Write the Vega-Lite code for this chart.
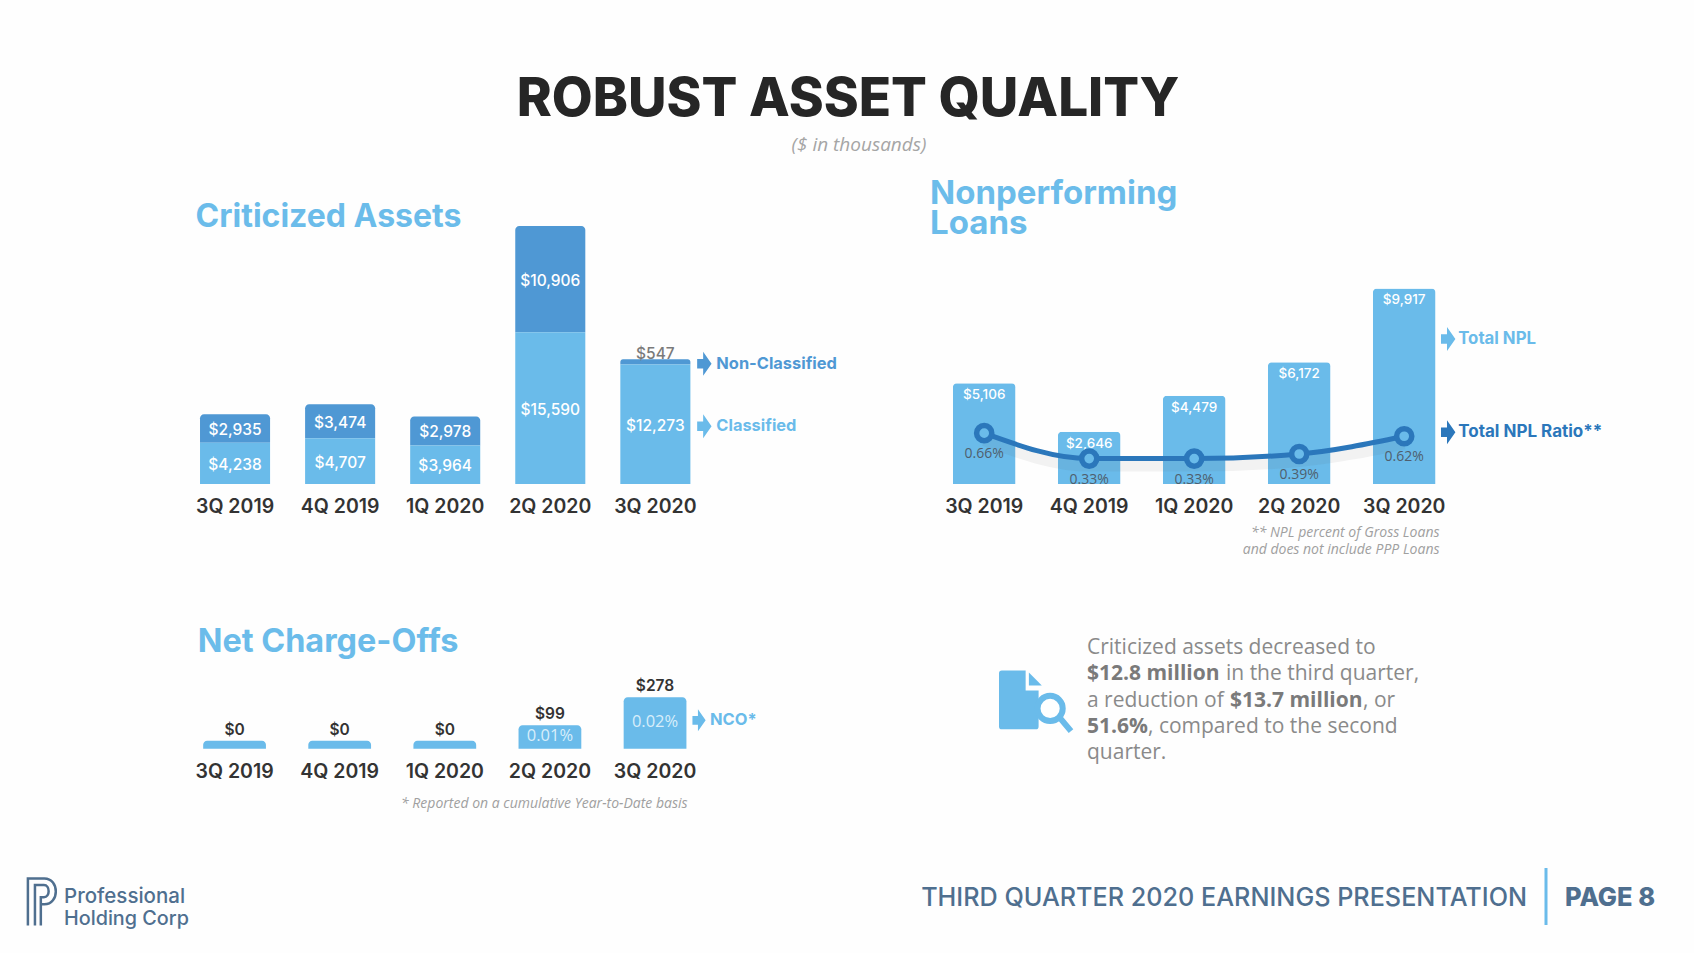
{"$schema":"https://vega.github.io/schema/vega-lite/v6.json","background":"#fefefe","padding":0,"autosize":{"type":"pad"},"bounds":"flush","spacing":0,"columns":2,"config":{"view":{"stroke":null},"font":"Inter"},
"datasets":{
"crit":[{"quarter":"3Q 2019","type":"Classified","value":4238},{"quarter":"3Q 2019","type":"Non-Classified","value":2935},{"quarter":"4Q 2019","type":"Classified","value":4707},{"quarter":"4Q 2019","type":"Non-Classified","value":3474},{"quarter":"1Q 2020","type":"Classified","value":3964},{"quarter":"1Q 2020","type":"Non-Classified","value":2978},{"quarter":"2Q 2020","type":"Classified","value":15590},{"quarter":"2Q 2020","type":"Non-Classified","value":10906},{"quarter":"3Q 2020","type":"Classified","value":12273},{"quarter":"3Q 2020","type":"Non-Classified","value":547}],
"npl":[{"quarter":"3Q 2019","total":5106,"ratio":0.0066},{"quarter":"4Q 2019","total":2646,"ratio":0.0033},{"quarter":"1Q 2020","total":4479,"ratio":0.0033},{"quarter":"2Q 2020","total":6172,"ratio":0.0039},{"quarter":"3Q 2020","total":9917,"ratio":0.0062}],
"nco":[{"quarter":"3Q 2019","value":0,"rate":0},{"quarter":"4Q 2019","value":0,"rate":0},{"quarter":"1Q 2020","value":0,"rate":0},{"quarter":"2Q 2020","value":99,"rate":0.0001},{"quarter":"3Q 2020","value":278,"rate":0.0002}]
},
"concat":[
{"width":880,"height":165,"data":{"values":[{"text":"ROBUST ASSET QUALITY"}]},
"mark":{"type":"text","font":"Inter","fontSize":53,"fontWeight":800,"color":"#262626","baseline":"middle","align":"center"},
"encoding":{"x":{"datum":848,"type":"quantitative","scale":{"domain":[0,880],"range":[0,880],"nice":false},"axis":null},"y":{"datum":100,"type":"quantitative","scale":{"domain":[0,165],"range":[0,165],"nice":false},"axis":null},"text":{"field":"text"}}},
{"width":814,"height":165,"data":{"values":[{"text":"($ in thousands)"}]},
"mark":{"type":"text","font":"Open Sans","fontSize":19,"fontStyle":"italic","color":"#a5a5a5","baseline":"middle","align":"center"},
"encoding":{"x":{"datum":-21,"type":"quantitative","scale":{"domain":[-100,814],"range":[-100,814],"nice":false},"axis":null},"y":{"datum":145,"type":"quantitative","scale":{"domain":[0,165],"range":[0,165],"nice":false},"axis":null},"text":{"field":"text"}}},
{"width":880,"height":319,"title":{"text":"Criticized Assets","anchor":"start","frame":"group","dx":195.6,"offset":-84,"baseline":"middle","fontSize":32,"fontWeight":700,"font":"Inter","color":"#6bbcea"},
"data":{"name":"crit"},
"transform":[{"stack":"value","groupby":["quarter"],"sort":[{"field":"type","order":"ascending"}],"as":["y0","y1"]}],
"encoding":{"x":{"field":"quarter","type":"nominal","sort":["3Q 2019","4Q 2019","1Q 2020","2Q 2020","3Q 2020"],"scale":{"range":[182.5,707.9],"paddingInner":0.3333,"paddingOuter":0.1667},"axis":{"title":null,"labelAngle":0,"domain":false,"ticks":false,"grid":false,"labelFontSize":19.5,"labelFontWeight":600,"labelColor":"#333333","labelPadding":13,"labelFont":"Inter"}}},
"layer":[
{"transform":[{"filter":"datum.type==='Non-Classified'"}],"mark":{"type":"bar","cornerRadiusTopLeft":4,"cornerRadiusTopRight":4},"encoding":{"y":{"field":"y1","type":"quantitative","scale":{"domain":[0,32752],"nice":false},"axis":null},"y2":{"field":"y0"},"color":{"field":"type","type":"nominal","scale":{"domain":["Classified","Non-Classified"],"range":["#6abbea","#4f98d4"]},"legend":null}}},
{"transform":[{"filter":"datum.type==='Classified'"}],"mark":{"type":"bar"},"encoding":{"y":{"field":"y1","type":"quantitative","axis":null},"y2":{"field":"y0"},"color":{"field":"type","type":"nominal","legend":null}}},
{"transform":[{"fold":["y0","y1"],"as":["edge","pos"]},{"aggregate":[{"op":"mean","field":"pos","as":"mid"}],"groupby":["quarter","type","value"]},{"filter":"datum.value>=1000"}],"mark":{"type":"text","font":"Inter","fontSize":15.5,"fontWeight":500,"color":"#ffffff","baseline":"middle","dy":1.5},"encoding":{"y":{"field":"mid","type":"quantitative","axis":null},"text":{"field":"value","type":"quantitative","format":"$,.0f"}}},
{"transform":[{"filter":"datum.value<1000"}],"mark":{"type":"text","font":"Inter","fontSize":15.5,"fontWeight":500,"color":"#7a7a7a","baseline":"bottom","dy":3},"encoding":{"y":{"field":"y1","type":"quantitative","axis":null},"text":{"field":"value","type":"quantitative","format":"$,.0f"}}},
{"transform":[{"fold":["y0","y1"],"as":["edge","pos"]},{"aggregate":[{"op":"mean","field":"pos","as":"mid"}],"groupby":["quarter","type"]},{"filter":"datum.quarter==='3Q 2020'"}],"mark":{"type":"point","shape":"M-0.6 -0.4L-0.1 -0.4L-0.1 -1L0.6 0L-0.1 1L-0.1 0.4L-0.6 0.4Z","filled":true,"size":576,"opacity":1,"xOffset":49,"yOffset":2},"encoding":{"y":{"field":"mid","type":"quantitative","axis":null},"color":{"field":"type","type":"nominal","legend":null}}},
{"transform":[{"fold":["y0","y1"],"as":["edge","pos"]},{"aggregate":[{"op":"mean","field":"pos","as":"mid"}],"groupby":["quarter","type"]},{"filter":"datum.quarter==='3Q 2020'"}],"mark":{"type":"text","font":"Inter","fontSize":16.4,"fontWeight":700,"align":"left","baseline":"middle","dx":61,"dy":2},"encoding":{"y":{"field":"mid","type":"quantitative","axis":null},"text":{"field":"type"},"color":{"field":"type","type":"nominal","legend":null}}}
]},
{"width":814,"height":319,"title":{"text":["Nonperforming","Loans"],"anchor":"start","frame":"group","dx":50,"offset":-92,"baseline":"middle","lineHeight":30,"fontSize":33,"fontWeight":700,"font":"Inter","color":"#6bbcea"},
"data":{"name":"npl"},
"encoding":{"x":{"field":"quarter","type":"nominal","sort":["3Q 2019","4Q 2019","1Q 2020","2Q 2020","3Q 2020"],"scale":{"range":[51.7,576.7],"paddingInner":0.403,"paddingOuter":0.2015},"axis":{"title":["** NPL percent of Gross Loans","and does not include PPP Loans"],"titleFont":"Open Sans","titleFontStyle":"italic","titleFontWeight":400,"titleFontSize":14,"titleColor":"#a0a0a0","titleAlign":"right","titleLineHeight":17,"titleX":559,"titleY":41.5,"labelAngle":0,"domain":false,"ticks":false,"grid":false,"labelFontSize":19.5,"labelFontWeight":600,"labelColor":"#333333","labelPadding":13,"labelFont":"Inter"}}},
"resolve":{"scale":{"y":"independent"}},
"layer":[
{"mark":{"type":"bar","color":"#6abbea","cornerRadiusTopLeft":4,"cornerRadiusTopRight":4},"encoding":{"y":{"field":"total","type":"quantitative","scale":{"domain":[0,16176],"nice":false},"axis":null}}},
{"mark":{"type":"text","font":"Inter","fontSize":13.5,"fontWeight":500,"color":"#ffffff","baseline":"middle","dy":12},"encoding":{"y":{"field":"total","type":"quantitative","scale":{"domain":[0,16176],"nice":false},"axis":null},"text":{"field":"total","type":"quantitative","format":"$,.0f"}}},
{"transform":[{"filter":"datum.quarter==='3Q 2020'"}],"mark":{"type":"point","shape":"M-0.6 -0.4L-0.1 -0.4L-0.1 -1L0.6 0L-0.1 1L-0.1 0.4L-0.6 0.4Z","filled":true,"size":576,"opacity":1,"color":"#6abbea","xOffset":44,"yOffset":1},"encoding":{"y":{"datum":7400,"type":"quantitative","scale":{"domain":[0,16176],"nice":false},"axis":null}}},
{"transform":[{"filter":"datum.quarter==='3Q 2020'"}],"mark":{"type":"text","font":"Inter","fontSize":16.8,"fontWeight":700,"color":"#6abbea","align":"left","baseline":"middle","dx":54,"dy":1},"encoding":{"y":{"datum":7400,"type":"quantitative","scale":{"domain":[0,16176],"nice":false},"axis":null},"text":{"value":"Total NPL"}}},
{"mark":{"type":"line","interpolate":"monotone","color":"#555555","strokeWidth":12,"opacity":0.07,"yOffset":7},"encoding":{"y":{"field":"ratio","type":"quantitative","scale":{"domain":[0,0.04143],"nice":false},"axis":null}}},
{"mark":{"type":"line","interpolate":"monotone","color":"#2b77bb","strokeWidth":5},"encoding":{"y":{"field":"ratio","type":"quantitative","scale":{"domain":[0,0.04143],"nice":false},"axis":null}}},
{"mark":{"type":"point","filled":true,"fill":"#6abbea","stroke":"#2b77bb","strokeWidth":5.5,"size":230,"opacity":1},"encoding":{"y":{"field":"ratio","type":"quantitative","scale":{"domain":[0,0.04143],"nice":false},"axis":null}}},
{"mark":{"type":"text","font":"Open Sans","fontSize":14,"color":"#4f5f6e","baseline":"middle","dy":21},"encoding":{"y":{"field":"ratio","type":"quantitative","scale":{"domain":[0,0.04143],"nice":false},"axis":null},"text":{"field":"ratio","type":"quantitative","format":".2%"}}},
{"transform":[{"filter":"datum.quarter==='3Q 2020'"}],"mark":{"type":"point","shape":"M-0.6 -0.4L-0.1 -0.4L-0.1 -1L0.6 0L-0.1 1L-0.1 0.4L-0.6 0.4Z","filled":true,"size":576,"opacity":1,"color":"#2b77bb","xOffset":44,"yOffset":-4},"encoding":{"y":{"field":"ratio","type":"quantitative","scale":{"domain":[0,0.04143],"nice":false},"axis":null}}},
{"transform":[{"filter":"datum.quarter==='3Q 2020'"}],"mark":{"type":"text","font":"Inter","fontSize":17,"fontWeight":700,"color":"#2b77bb","align":"left","baseline":"middle","dx":54,"dy":-4},"encoding":{"y":{"field":"ratio","type":"quantitative","scale":{"domain":[0,0.04143],"nice":false},"axis":null},"text":{"value":"Total NPL Ratio**"}}}
]},
{"width":880,"height":264.7,"title":{"text":"Net Charge-Offs","anchor":"start","frame":"group","dx":197.7,"offset":-190,"baseline":"middle","fontSize":32.4,"fontWeight":700,"font":"Inter","color":"#6bbcea"},
"data":{"name":"nco"},
"encoding":{"x":{"field":"quarter","type":"nominal","sort":["3Q 2019","4Q 2019","1Q 2020","2Q 2020","3Q 2020"],"scale":{"range":[182,707.6],"paddingInner":0.403,"paddingOuter":0.2015},"axis":{"title":"* Reported on a cumulative Year-to-Date basis","titleFont":"Open Sans","titleFontStyle":"italic","titleFontWeight":400,"titleFontSize":14,"titleColor":"#a0a0a0","titleAlign":"right","titleX":687,"titleY":47.6,"labelAngle":0,"domain":false,"ticks":false,"grid":false,"labelFontSize":19.5,"labelFontWeight":600,"labelColor":"#333333","labelPadding":14,"labelFont":"Inter"}}},
"layer":[
{"mark":{"type":"bar","color":"#6abbea","cornerRadiusTopLeft":4,"cornerRadiusTopRight":4},"encoding":{"y":{"field":"value","type":"quantitative","scale":{"domain":[-50,1639],"nice":false},"axis":null},"y2":{"datum":-50}}},
{"mark":{"type":"text","font":"Inter","fontSize":15.5,"fontWeight":600,"color":"#333333","baseline":"middle","dy":-11},"encoding":{"y":{"field":"value","type":"quantitative","axis":null},"text":{"field":"value","type":"quantitative","format":"$,.0f"}}},
{"transform":[{"filter":"datum.value===99"}],"mark":{"type":"text","font":"Open Sans","fontSize":16.5,"color":"#d8eefa","baseline":"middle","dy":11},"encoding":{"y":{"field":"value","type":"quantitative","axis":null},"text":{"field":"rate","type":"quantitative","format":".2%"}}},
{"transform":[{"filter":"datum.value===278"}],"mark":{"type":"text","font":"Open Sans","fontSize":16.5,"color":"#d8eefa","baseline":"middle","dy":25},"encoding":{"y":{"field":"value","type":"quantitative","axis":null},"text":{"field":"rate","type":"quantitative","format":".2%"}}},
{"transform":[{"filter":"datum.value===278"}],"mark":{"type":"point","shape":"M-0.6 -0.4L-0.1 -0.4L-0.1 -1L0.6 0L-0.1 1L-0.1 0.4L-0.6 0.4Z","filled":true,"size":484,"opacity":1,"color":"#6abbea","xOffset":44,"yOffset":23},"encoding":{"y":{"field":"value","type":"quantitative","axis":null}}},
{"transform":[{"filter":"datum.value===278"}],"mark":{"type":"text","font":"Inter","fontSize":16.5,"fontWeight":700,"color":"#6abbea","align":"left","baseline":"middle","dx":55,"dy":23},"encoding":{"y":{"field":"value","type":"quantitative","axis":null},"text":{"value":"NCO*"}}}
]},
{"width":814,"height":264.7,
"data":{"values":[{"line":1,"reg0":"Criticized assets decreased to"},{"line":2,"bold0":"$12.8 million","reg1":"in the third quarter,"},{"line":3,"reg0":"a reduction of","bold1":"$13.7 million","reg2":", or"},{"line":4,"bold0":"51.6%","reg3":", compared to the second"},{"line":5,"reg0":"quarter."}]},
"encoding":{"x":{"datum":207,"type":"quantitative","scale":{"domain":[0,814],"range":[0,814],"nice":false},"axis":null},"y":{"field":"line","type":"ordinal","scale":{"type":"point","domain":[1,2,3,4,5],"range":[164,269],"padding":0},"axis":null}},
"layer":[
{"transform":[{"filter":"datum.reg0"}],"mark":{"type":"text","font":"Open Sans","fontSize":21,"color":"#8a8a8a","align":"left","baseline":"middle"},"encoding":{"text":{"field":"reg0"}}},
{"transform":[{"filter":"datum.bold0"}],"mark":{"type":"text","font":"Open Sans","fontSize":21,"fontWeight":700,"color":"#7a7a7a","align":"left","baseline":"middle"},"encoding":{"text":{"field":"bold0"}}},
{"transform":[{"filter":"datum.reg1"}],"mark":{"type":"text","font":"Open Sans","fontSize":21,"color":"#8a8a8a","align":"left","baseline":"middle","dx":139},"encoding":{"text":{"field":"reg1"}}},
{"transform":[{"filter":"datum.bold1"}],"mark":{"type":"text","font":"Open Sans","fontSize":21,"fontWeight":700,"color":"#7a7a7a","align":"left","baseline":"middle","dx":143},"encoding":{"text":{"field":"bold1"}}},
{"transform":[{"filter":"datum.reg2"}],"mark":{"type":"text","font":"Open Sans","fontSize":21,"color":"#8a8a8a","align":"left","baseline":"middle","dx":276},"encoding":{"text":{"field":"reg2"}}},
{"transform":[{"filter":"datum.reg3"}],"mark":{"type":"text","font":"Open Sans","fontSize":21,"color":"#8a8a8a","align":"left","baseline":"middle","dx":61},"encoding":{"text":{"field":"reg3"}}},
{"transform":[{"filter":"datum.line===3"}],"mark":{"type":"point","shape":"M-1 -0.75Q-1 -0.83 -0.92 -0.83H-0.26V-0.28H0.1V0.72Q0.1 0.8 0.02 0.8H-0.92Q-1 0.8 -1 0.72Z","filled":true,"size":5184,"opacity":1,"color":"#6abbea","xOffset":-52},"encoding":{}},
{"transform":[{"filter":"datum.line===3"}],"mark":{"type":"point","shape":"M-0.17 -0.78L0.19 -0.42L-0.17 -0.42Z","filled":true,"size":5184,"opacity":1,"color":"#6abbea","xOffset":-52},"encoding":{}},
{"transform":[{"filter":"datum.line===3"}],"mark":{"type":"point","shape":"M0.42 -0.13A0.35 0.35 0 1 1 0.42 0.57A0.35 0.35 0 1 1 0.42 -0.13ZM0.68 0.47L1 0.85","filled":true,"fill":"#ffffff","stroke":"#6abbea","strokeWidth":6,"size":5184,"opacity":1,"xOffset":-52},"encoding":{}}
]},
{"width":880,"height":204.3,
"encoding":{"x":{"datum":64,"type":"quantitative","scale":{"domain":[0,880],"range":[0,880],"nice":false},"axis":null}},
"data":{"values":[{"a":"Professional","b":"Holding Corp"}]},
"layer":[
{"mark":{"type":"text","font":"Inter","fontSize":20.5,"fontWeight":500,"color":"#4f6f8f","align":"left","baseline":"middle","letterSpacing":-0.5},"encoding":{"y":{"datum":148,"type":"quantitative","scale":{"domain":[0,204.3],"range":[0,204.3],"nice":false},"axis":null},"text":{"field":"a"}}},
{"mark":{"type":"text","font":"Inter","fontSize":19.8,"fontWeight":500,"color":"#4f6f8f","align":"left","baseline":"middle","letterSpacing":-0.5},"encoding":{"y":{"datum":170,"type":"quantitative","axis":null},"text":{"field":"b"}}},
{"mark":{"type":"point","shape":"M-0.6 1V-1H0.1C0.75 -1 0.75 0.1 0.1 0.1H-0.05M-0.3 1V-0.72H0.08C0.35 -0.72 0.35 -0.2 0.08 -0.2H-0.05V1","filled":false,"stroke":"#4f6f8f","strokeWidth":2.5,"size":2209,"opacity":1},"encoding":{"x":{"datum":42,"type":"quantitative"},"y":{"datum":153,"type":"quantitative","axis":null}}}
]},
{"width":814,"height":204.3,
"data":{"values":[{"deck":"THIRD QUARTER 2020 EARNINGS PRESENTATION","page":"PAGE 8"}]},
"encoding":{"x":{"datum":0,"type":"quantitative","scale":{"domain":[0,814],"range":[0,814],"nice":false},"axis":null},"y":{"datum":149,"type":"quantitative","scale":{"domain":[0,204.3],"range":[0,204.3],"nice":false},"axis":null}},
"layer":[
{"mark":{"type":"text","font":"Inter","fontSize":25.2,"fontWeight":500,"color":"#4f6f8f","align":"right","baseline":"middle"},"encoding":{"x":{"datum":647,"type":"quantitative"},"text":{"field":"deck"}}},
{"mark":{"type":"rule","color":"#6abbea","strokeWidth":3},"encoding":{"x":{"datum":666,"type":"quantitative"},"y":{"datum":119,"type":"quantitative"},"y2":{"datum":176}}},
{"mark":{"type":"text","font":"Inter","fontSize":25.5,"fontWeight":800,"color":"#4f6f8f","align":"left","baseline":"middle"},"encoding":{"x":{"datum":685,"type":"quantitative"},"text":{"field":"page"}}}
]}
]}
